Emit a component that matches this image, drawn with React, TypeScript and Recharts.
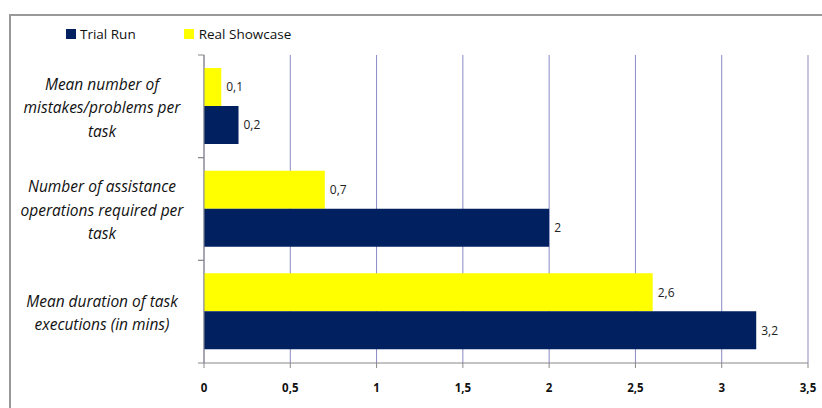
import { BarChart, Bar, XAxis, YAxis, CartesianGrid, LabelList } from 'recharts'

const categories = [
  'Mean number of\nmistakes/problems per\ntask',
  'Number of assistance\noperations required per\ntask',
  'Mean duration of task\nexecutions (in mins)',
]
const trialRun = [0.2, 2, 3.2]
const realShowcase = [0.1, 0.7, 2.6]
const xTicks = [0, 0.5, 1, 1.5, 2, 2.5, 3, 3.5]

const data = categories.map((name, i) => ({
  name,
  trial: trialRun[i],
  real: realShowcase[i],
}))

const NAVY = '#002060'
const YELLOW = '#FFFF00'
const FONT = '"Open Sans", sans-serif'
const W = 822
const H = 408
const X_AXIS_H = 30
const M = { top: 55, right: 14, bottom: 15, left: 0 }
const HALF_BAND = (H - M.top - M.bottom - X_AXIS_H) / categories.length / 2

const comma = (v: any) => String(v).replace('.', ',')

function CategoryTick({ x, y, payload }: any) {
  const lines = String(payload.value).split('\n')
  const lh = 23.5
  const y0 = y + 1.5 - ((lines.length - 1) * lh) / 2
  return (
    <g>
      <line x1={x - 6} x2={x} y1={y - HALF_BAND} y2={y - HALF_BAND} stroke="#888" />
      <line x1={x - 6} x2={x} y1={y + HALF_BAND} y2={y + HALF_BAND} stroke="#888" />
      <text x={x - 102} y={y0} textAnchor="middle" fontFamily={FONT} fontStyle="italic" fontSize={15.5} fill="#111">
        {lines.map((l, i) => (
          <tspan key={i} x={x - 102} y={y0 + i * lh} dy="0.35em">{l}</tspan>
        ))}
      </text>
    </g>
  )
}

export default function App() {
  return (
    <div style={{ position: 'absolute', left: 0, top: 0, width: W, height: H, overflow: 'hidden', background: '#fff' }}>
      <div style={{ position: 'absolute', left: 9, top: 14, width: 900, height: 500, border: '2px solid #999' }} />
      <div style={{ position: 'absolute', left: 66, top: 25, display: 'flex', alignItems: 'center', fontFamily: FONT, fontSize: 13.5, color: '#111' }}>
        <span style={{ width: 10, height: 10, background: NAVY, marginRight: 4 }} />
        <span style={{ marginRight: 48 }}>Trial Run</span>
        <span style={{ width: 10, height: 10, background: YELLOW, marginRight: 5 }} />
        <span>Real Showcase</span>
      </div>
      <div style={{ position: 'absolute', left: 0, top: 0 }}>
        <BarChart width={W} height={H} data={data} layout="vertical" margin={M} barGap={0} barSize={38}>
          <CartesianGrid horizontal={false} stroke="#8a8ac4" />
          <XAxis
            type="number"
            domain={[0, 3.5]}
            ticks={xTicks}
            tickFormatter={comma}
            stroke="#888"
            height={X_AXIS_H}
            tickSize={5}
            tickMargin={16}
            tick={{ fontSize: 11.5, fontWeight: 'bold', fill: '#111', fontFamily: FONT }}
          />
          <YAxis
            type="category"
            dataKey="name"
            width={204}
            stroke="#888"
            tickLine={false}
            tickSize={0}
            tickMargin={0}
            tick={<CategoryTick />}
            interval={0}
          />
          <Bar dataKey="real" fill={YELLOW} isAnimationActive={false}>
            <LabelList dataKey="real" position="right" offset={5} formatter={comma} fontSize={12} fill="#222" fontFamily={FONT} />
          </Bar>
          <Bar dataKey="trial" fill={NAVY} isAnimationActive={false}>
            <LabelList dataKey="trial" position="right" offset={5} formatter={comma} fontSize={12} fill="#222" fontFamily={FONT} />
          </Bar>
        </BarChart>
      </div>
    </div>
  )
}
